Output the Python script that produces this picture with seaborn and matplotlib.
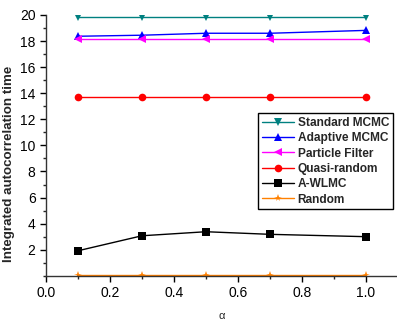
import pandas as pd
import numpy as np
import matplotlib.pyplot as plt
import seaborn as sns
from matplotlib.ticker import MultipleLocator

# values
alpha = [0.1, 0.3, 0.5, 0.7, 1.0]
standard_mcmc = [19.85, 19.85, 19.85, 19.85, 19.85]
adaptive_mcmc = [18.37, 18.45, 18.6, 18.6, 18.82]
particle_filter = [18.15, 18.15, 18.15, 18.15, 18.15]
quasi_random = [13.68, 13.68, 13.68, 13.68, 13.68]
a_wlmc = [1.92, 3.07, 3.38, 3.18, 3.0]
random_ = [0.05, 0.05, 0.05, 0.05, 0.05]

methods = ["Standard MCMC", "Adaptive MCMC", "Particle Filter",
           "Quasi-random", "A-WLMC", "Random"]
series = [standard_mcmc, adaptive_mcmc, particle_filter, quasi_random, a_wlmc, random_]

data = pd.DataFrame({
    "alpha": alpha * len(methods),
    "value": [v for s in series for v in s],
    "method": [m for m in methods for _ in alpha],
})

colors = {"Standard MCMC": "#008080", "Adaptive MCMC": "#0000ff",
          "Particle Filter": "#ff00ff", "Quasi-random": "#ff0000",
          "A-WLMC": "#000000", "Random": "#ff8000"}
markers = {"Standard MCMC": "v", "Adaptive MCMC": "^", "Particle Filter": "<",
           "Quasi-random": "o", "A-WLMC": "s", "Random": "*"}

sns.set_style("ticks")
plt.rcParams["font.family"] = ["Liberation Sans", "DejaVu Sans"]

fig = plt.figure(figsize=(3.97, 3.2), dpi=100)
ax = fig.add_axes([46 / 397, 44.2 / 320, 352 / 397, 260.8 / 320])

sns.lineplot(data=data, x="alpha", y="value", hue="method", style="method",
             hue_order=methods, style_order=methods, palette=colors,
             markers=markers, dashes=False, markersize=5.5, linewidth=1,
             markeredgewidth=0, ax=ax)

ax.set_xlim(0, 1.1)
ax.set_ylim(0, 20)
ax.set_xticks([0.0, 0.2, 0.4, 0.6, 0.8, 1.0])
ax.set_yticks(range(2, 21, 2))
ax.xaxis.set_minor_locator(MultipleLocator(0.1))
ax.yaxis.set_minor_locator(MultipleLocator(1))
ax.tick_params(which="major", length=4, width=1, labelsize=10, colors="black")
ax.tick_params(which="minor", length=2, width=1)
for s in ["top", "right"]:
    ax.spines[s].set_visible(False)
for s in ["left", "bottom"]:
    ax.spines[s].set_color("#333333")
    ax.spines[s].set_linewidth(1)

ax.set_xlabel("α", fontsize=8, labelpad=8)
ax.set_ylabel("Integrated autocorrelation time", fontsize=9.6, fontweight="bold")
ax.yaxis.set_label_coords(-0.088, 0.43)

leg = ax.legend(loc="upper right", bbox_to_anchor=(0.985, 0.623), borderaxespad=0,
                fancybox=False, edgecolor="black", framealpha=1,
                prop={"weight": "bold", "size": 8.6}, handlelength=2.7,
                labelspacing=0.28, borderpad=0.3, handletextpad=0.3)
leg.get_frame().set_linewidth(1)

plt.savefig("out.png", dpi=100)
